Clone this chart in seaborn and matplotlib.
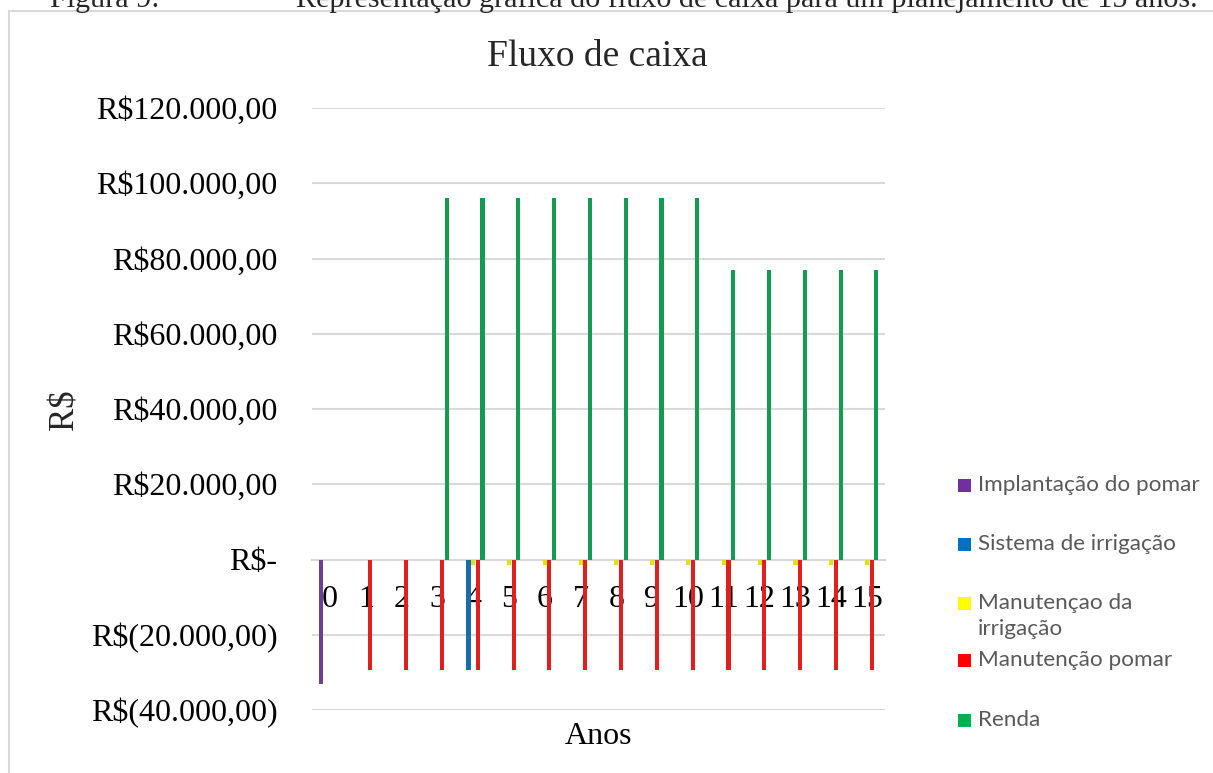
import numpy as np
import pandas as pd
import matplotlib
matplotlib.use("Agg")
import matplotlib.pyplot as plt
from matplotlib.patches import Rectangle
from matplotlib.ticker import FuncFormatter, FixedLocator
import seaborn as sns

# ---- data -------------------------------------------------------------
anos = list(range(16))
series = ["Implantação do pomar", "Sistema de irrigação", "Manutençao da\nirrigação",
          "Manutenção pomar", "Renda"]
cores = ["#7030A0", "#0070C0", "#FFFF00", "#FF0000", "#00B050"]

implantacao = [-33000, 0, 0, 0, 0, 0, 0, 0, 0, 0, 0, 0, 0, 0, 0, 0]
sistema_irrigacao = [0, 0, 0, 0, -29500, 0, 0, 0, 0, 0, 0, 0, 0, 0, 0, 0]
manut_irrigacao = [0, 0, 0, 0, -1500, -1500, -1500, -1500, -1500, -1500,
                   -1500, -1500, -1500, -1500, -1500, -1500]
manut_pomar = [0, -29500, -29500, -29500, -29500, -29500, -29500, -29500,
               -29500, -29500, -29500, -29500, -29500, -29500, -29500, -29500]
renda = [0, 0, 0, 96000, 96000, 96000, 96000, 96000, 96000, 96000, 96000,
         77000, 77000, 77000, 77000, 77000]

y_ticks = [-40000, -20000, 0, 20000, 40000, 60000, 80000, 100000, 120000]

valores = [implantacao, sistema_irrigacao, manut_irrigacao, manut_pomar, renda]
df = pd.DataFrame([
    {"Ano": str(a), "Serie": s, "Valor": v[i]}
    for s, v in zip(series, valores)
    for i, a in enumerate(anos)
])

# ---- figure -----------------------------------------------------------
W, H = 1213, 773
fig = plt.figure(figsize=(W / 100, H / 100), dpi=100)
sns.set_style("white")
serif = ["Liberation Serif", "DejaVu Serif"]

ax = fig.add_axes([312 / W, 1 - 710 / H, (885 - 312) / W, (710 - 108) / H])

sns.barplot(data=df, x="Ano", y="Valor", hue="Serie", hue_order=series,
            order=[str(a) for a in anos], palette=cores, width=0.65, gap=0.12,
            errorbar=None, linewidth=0, legend=False, ax=ax, zorder=3)

ax.set_xlim(-0.5, 15.5)
ax.set_ylim(-40000, 120000)
ax.yaxis.set_major_locator(FixedLocator(y_ticks))


def moeda(v, pos=None):
    if v == 0:
        return "R$-"
    s = f"{abs(v):,.2f}".replace(",", "X").replace(".", ",").replace("X", ".")
    return f"R$({s})" if v < 0 else f"R${s}"


ax.yaxis.set_major_formatter(FuncFormatter(moeda))
ax.grid(axis="y", color="#d9d9d9", linewidth=1.5, zorder=0)
ax.grid(axis="x", visible=False)
ax.set_axisbelow(True)
for side in ["top", "right", "left"]:
    ax.spines[side].set_visible(False)
ax.spines["bottom"].set_position(("data", 0))
ax.spines["bottom"].set_color("#d9d9d9")
ax.spines["bottom"].set_linewidth(1.5)
ax.spines["bottom"].set_zorder(1)

ax.tick_params(axis="both", length=0)
ax.tick_params(axis="y", pad=25)
ax.tick_params(axis="x", pad=18.5)
for lab in ax.get_yticklabels() + ax.get_xticklabels():
    lab.set_fontfamily(serif)
    lab.set_fontsize(23)
    lab.set_color("black")

ax.set_ylabel("")
ax.set_xlabel("Anos", fontfamily=serif, fontsize=23, color="black")
ax.xaxis.set_label_coords(0.5, -0.02)

# titles and captions
fig.text(597 / W, 1 - 57 / H, "Fluxo de caixa", ha="center", va="center",
         fontfamily=serif, fontsize=27)
fig.text(65 / W, 1 - 410 / H, "R$", ha="center", va="center", rotation=90,
         fontfamily=serif, fontsize=25)
fig.text(50 / W, 1 - 7 / H, "Figura 9:", ha="left", va="baseline",
         fontfamily=serif, fontsize=21.7)
fig.text(296 / W, 1 - 7 / H,
         "Representação gráfica do fluxo de caixa para um planejamento de 15 anos.",
         ha="left", va="baseline", fontfamily=serif, fontsize=21.7)

# chart area border
fig.patches.append(Rectangle((9 / W, -0.05), 1.1, 1 - 11 / H + 0.05,
                             transform=fig.transFigure, fill=False,
                             edgecolor="#d9d9d9", linewidth=1.5))

# legend
leg_font = ["Lato", "DejaVu Sans"]
leg_y = [485, 544, 603, 660, 720]
for nome, cor, yy in zip(series, cores, leg_y):
    fig.patches.append(Rectangle((958 / W, 1 - (yy + 6.5) / H), 13 / W, 13 / H,
                                 transform=fig.transFigure, facecolor=cor,
                                 edgecolor="none"))
    fig.text(978 / W, 1 - (yy - 10) / H, nome, ha="left", va="top",
             fontfamily=leg_font, fontsize=16.2, color="#595959", linespacing=1.4)

fig.savefig("out.png", dpi=100)
